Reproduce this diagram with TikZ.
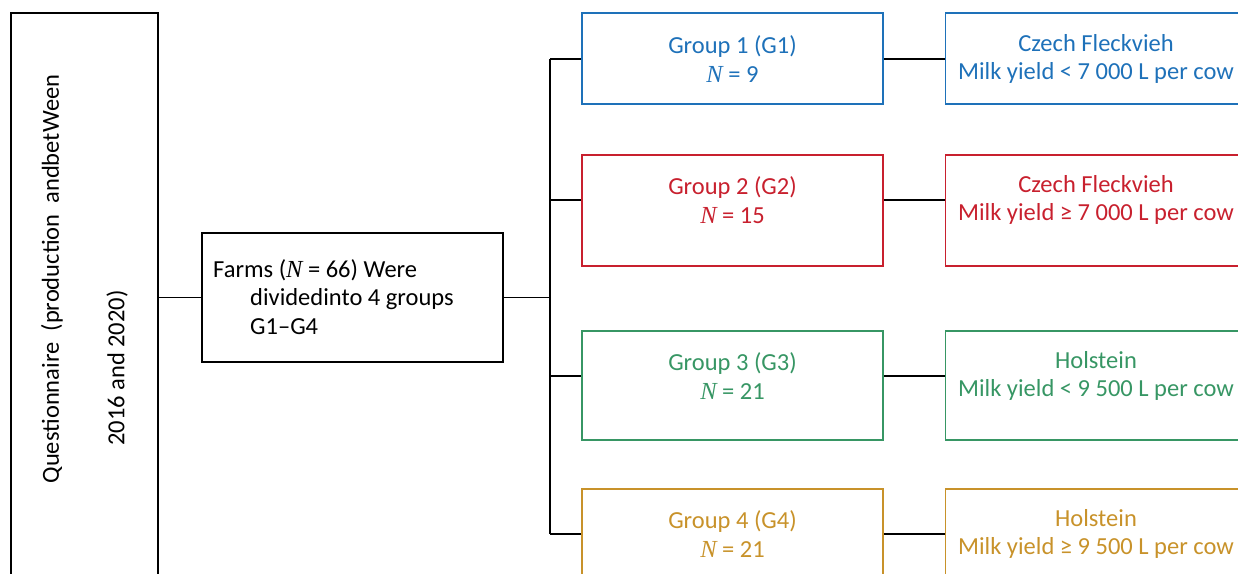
\documentclass[tikz,border=0pt]{standalone}
\usepackage{fontspec}
\setmainfont{Carlito}
\newfontfamily\serifN{Liberation Serif}
\usetikzlibrary{positioning,calc}
\definecolor{gone}{RGB}{30,113,185}
\definecolor{gtwo}{RGB}{200,32,46}
\definecolor{gthree}{RGB}{55,150,100}
\definecolor{gfour}{RGB}{200,146,42}
\newcommand{\NN}{{\serifN\itshape N}}
\tikzstyle{frame}=[draw,line width=1.6pt,minimum width=301pt,inner sep=0pt]
\tikzstyle{boxtext}=[align=center,inner sep=0pt,font=\fontsize{24.5}{28.5}\selectfont]
\tikzstyle{link}=[line width=1.6pt]

\begin{document}
\begin{tikzpicture}[x=1pt,y=-1pt]
	\path[use as bounding box,clip] (0,0) rectangle (1238,573);
	
	\node[frame,minimum width=147pt,minimum height=590pt] (quest) at (84.5,308) {};
	\node[boxtext,rotate=90] (q1) at (52,279) {Questionnaire\ \ (production\ \ andbetWeen};
	\node[boxtext,rotate=90] (q2) at (117,368) {2016 and 2020)};
	
	\node[frame,minimum height=129pt] (farms) at (352.5,297.5) {};
	\node[boxtext,align=left,anchor=west] (farmst) at (213,297) {Farms (\NN{} = 66) Were\\\hspace*{37pt}dividedinto 4 groups\\\hspace*{37pt}G1--G4};
	
	\node[frame,draw=gone,minimum height=91pt] (g1) at (732.5,58.5) {};
	\node[frame,draw=gtwo,minimum height=111pt] (g2) at (732.5,210.5) {};
	\node[frame,draw=gthree,minimum height=109pt] (g3) at (732.5,385.5) {};
	\node[frame,draw=gfour,minimum height=110pt] (g4) at (732.5,544) {};
	\node[boxtext,text=gone] (t1) at (732.5,59) {Group 1 (G1)\\\NN{} = 9};
	\node[boxtext,text=gtwo] (t2) at (732.5,200) {Group 2 (G2)\\\NN{} = 15};
	\node[boxtext,text=gthree] (t3) at (732.5,376) {Group 3 (G3)\\\NN{} = 21};
	\node[boxtext,text=gfour] (t4) at (732.5,534) {Group 4 (G4)\\\NN{} = 21};
	
	\node[frame,draw=gone,minimum height=91pt] (r1) at (1096,58.5) {};
	\node[frame,draw=gtwo,minimum height=111pt] (r2) at (1096,210.5) {};
	\node[frame,draw=gthree,minimum height=109pt] (r3) at (1096,385.5) {};
	\node[frame,draw=gfour,minimum height=110pt] (r4) at (1096,544) {};
	\node[boxtext,text=gone] (s1) at (1096,59) {Czech Fleckvieh\\Milk yield < 7 000 L per cow};
	\node[boxtext,text=gtwo] (s2) at (1096,200) {Czech Fleckvieh\\Milk yield ≥ 7 000 L per cow};
	\node[boxtext,text=gthree] (s3) at (1096,376) {Holstein\\Milk yield < 9 500 L per cow};
	\node[boxtext,text=gfour] (s4) at (1096,534) {Holstein\\Milk yield ≥ 9 500 L per cow};
	
	% connectors
	\coordinate (bus) at (550,297.5);
	\draw[link] (quest.east |- farms) -- (farms.west);
	\draw[link] (farms.east) -- (bus);
	\draw[link] (bus |- t1) -- (bus |- t4);
	\foreach \i in {1,...,4} {
		\draw[link] (bus |- t\i) -- (g\i.west |- t\i);
		\draw[link] (g\i.east |- t\i) -- (r\i.west |- t\i);
	}
\end{tikzpicture}
\end{document}
